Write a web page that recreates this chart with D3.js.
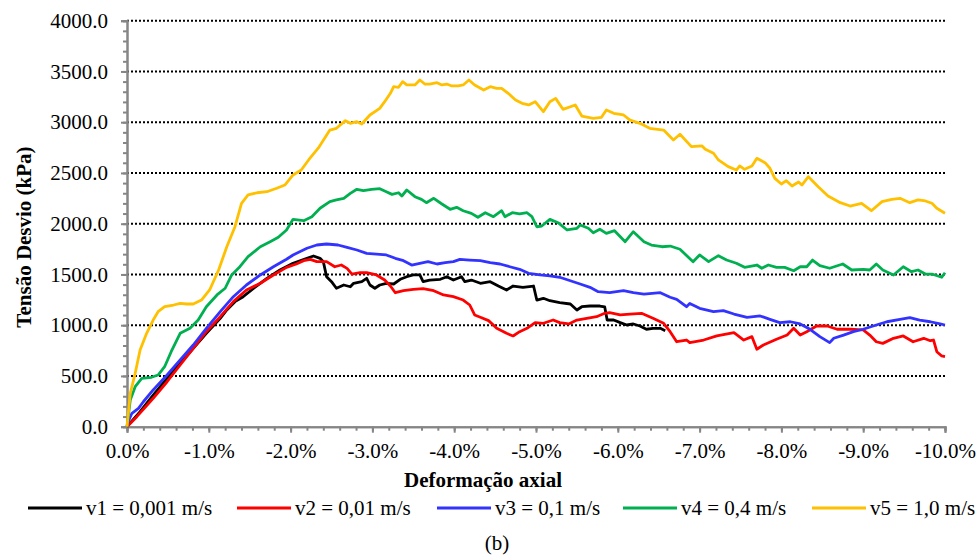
<!DOCTYPE html>
<html><head><meta charset="utf-8">
<script src="https://cdn.jsdelivr.net/npm/d3@7"></script>
<style>
body{margin:0;background:#fff;}
svg{display:block;font-family:"Times New Roman","Liberation Serif",serif;}
</style></head>
<body><svg id="chart" width="979" height="557"></svg>
<script>
// Data: [axial strain (%), deviator stress (kPa)]
const seriesNames = ["v1 = 0,001 m/s","v2 = 0,01 m/s","v3 = 0,1 m/s","v4 = 0,4 m/s","v5 = 1,0 m/s"];
const seriesColors = ["#000000","#ff0000","#3333ff","#00b050","#ffc000"];
const xTicks = [0,-1,-2,-3,-4,-5,-6,-7,-8,-9,-10];
const yTicks = [0,500,1000,1500,2000,2500,3000,3500,4000];

const v1 = [[0,0],[-0.16,148],[-0.32,312],[-0.49,477],[-0.65,625],[-0.81,772],[-0.97,920],[-1.14,1068],[-1.22,1150],[-1.32,1232],[-1.42,1281],[-1.55,1364],[-1.71,1462],[-1.87,1544],[-2.03,1610],[-2.20,1659],[-2.28,1682],[-2.36,1659],[-2.40,1626],[-2.44,1478],[-2.50,1429],[-2.56,1364],[-2.65,1396],[-2.73,1379],[-2.77,1413],[-2.87,1429],[-2.93,1462],[-2.97,1396],[-3.03,1364],[-3.09,1396],[-3.17,1413],[-3.26,1406],[-3.34,1452],[-3.42,1478],[-3.50,1495],[-3.58,1495],[-3.62,1429],[-3.70,1445],[-3.83,1452],[-3.91,1478],[-3.99,1445],[-4.09,1478],[-4.13,1429],[-4.21,1445],[-4.32,1413],[-4.44,1429],[-4.54,1386],[-4.64,1347],[-4.72,1386],[-4.84,1373],[-4.97,1386],[-5.01,1248],[-5.09,1265],[-5.17,1241],[-5.29,1222],[-5.42,1209],[-5.50,1150],[-5.56,1182],[-5.66,1189],[-5.78,1189],[-5.84,1180],[-5.87,1051],[-5.95,1051],[-6.03,1025],[-6.11,1002],[-6.19,1012],[-6.27,992],[-6.35,960],[-6.43,969],[-6.52,969],[-6.58,946]];

const v2 = [[0,0],[-0.12,99],[-0.32,280],[-0.49,443],[-0.65,608],[-0.81,772],[-0.97,936],[-1.14,1084],[-1.30,1232],[-1.46,1347],[-1.63,1413],[-1.79,1495],[-1.95,1570],[-2.07,1603],[-2.16,1636],[-2.24,1649],[-2.32,1626],[-2.44,1626],[-2.54,1576],[-2.62,1593],[-2.69,1560],[-2.75,1504],[-2.85,1517],[-2.93,1517],[-3.05,1495],[-3.15,1445],[-3.22,1386],[-3.28,1320],[-3.38,1340],[-3.50,1353],[-3.62,1360],[-3.75,1340],[-3.87,1298],[-3.99,1281],[-4.11,1248],[-4.19,1199],[-4.25,1101],[-4.32,1078],[-4.42,1045],[-4.52,969],[-4.64,920],[-4.72,894],[-4.80,936],[-4.89,969],[-4.99,1025],[-5.09,1019],[-5.21,1051],[-5.29,1025],[-5.40,1012],[-5.50,1051],[-5.62,1068],[-5.74,1084],[-5.84,1117],[-5.90,1123],[-6.03,1101],[-6.15,1110],[-6.29,1117],[-6.43,1068],[-6.56,1019],[-6.64,936],[-6.72,837],[-6.84,854],[-6.88,828],[-7.05,854],[-7.21,894],[-7.42,926],[-7.54,854],[-7.64,887],[-7.70,763],[-7.78,805],[-7.94,861],[-8.07,903],[-8.15,969],[-8.23,903],[-8.31,936],[-8.43,992],[-8.56,992],[-8.68,960],[-8.84,960],[-9.00,953],[-9.08,903],[-9.16,837],[-9.24,821],[-9.37,871],[-9.49,894],[-9.61,837],[-9.74,871],[-9.82,847],[-9.86,854],[-9.90,739],[-9.96,697],[-10.0,690]];

const v3 = [[0,0],[-0.02,60],[-0.06,132],[-0.14,181],[-0.20,246],[-0.32,362],[-0.49,509],[-0.65,657],[-0.81,805],[-0.97,969],[-1.14,1133],[-1.30,1281],[-1.46,1396],[-1.63,1495],[-1.79,1576],[-1.95,1650],[-2.03,1692],[-2.20,1758],[-2.32,1790],[-2.44,1800],[-2.58,1790],[-2.69,1767],[-2.81,1741],[-2.93,1708],[-3.05,1701],[-3.17,1692],[-3.28,1659],[-3.38,1636],[-3.48,1593],[-3.58,1610],[-3.68,1626],[-3.79,1603],[-3.89,1616],[-3.99,1626],[-4.07,1649],[-4.19,1642],[-4.32,1636],[-4.44,1616],[-4.56,1603],[-4.68,1576],[-4.80,1551],[-4.91,1511],[-5.05,1495],[-5.17,1485],[-5.29,1472],[-5.42,1438],[-5.54,1406],[-5.66,1373],[-5.76,1330],[-5.90,1320],[-6.07,1340],[-6.19,1320],[-6.32,1307],[-6.52,1320],[-6.64,1275],[-6.72,1255],[-6.84,1182],[-6.88,1215],[-7.00,1166],[-7.17,1133],[-7.29,1143],[-7.42,1110],[-7.58,1078],[-7.74,1091],[-7.86,1058],[-7.98,1025],[-8.11,1034],[-8.23,1012],[-8.35,960],[-8.47,887],[-8.59,828],[-8.64,871],[-8.76,903],[-8.88,936],[-9.00,960],[-9.16,1002],[-9.29,1034],[-9.45,1058],[-9.57,1074],[-9.69,1051],[-9.82,1034],[-9.94,1012],[-10.0,1002]];

const v4 = [[0,0],[-0.04,263],[-0.10,394],[-0.18,477],[-0.30,487],[-0.38,509],[-0.46,591],[-0.54,739],[-0.65,920],[-0.77,969],[-0.87,1051],[-0.97,1182],[-1.10,1298],[-1.20,1364],[-1.28,1495],[-1.38,1576],[-1.48,1675],[-1.63,1773],[-1.75,1823],[-1.85,1866],[-1.95,1938],[-2.03,2043],[-2.16,2030],[-2.26,2069],[-2.36,2152],[-2.48,2217],[-2.56,2234],[-2.65,2250],[-2.73,2299],[-2.81,2339],[-2.89,2325],[-2.99,2339],[-3.09,2345],[-3.17,2315],[-3.24,2289],[-3.32,2305],[-3.36,2273],[-3.42,2332],[-3.52,2266],[-3.60,2240],[-3.66,2207],[-3.75,2250],[-3.85,2194],[-3.95,2142],[-4.03,2161],[-4.11,2128],[-4.21,2102],[-4.29,2063],[-4.38,2108],[-4.48,2069],[-4.58,2128],[-4.62,2069],[-4.71,2108],[-4.80,2096],[-4.89,2108],[-4.95,2069],[-5.01,1970],[-5.07,1977],[-5.17,2043],[-5.27,2010],[-5.38,1938],[-5.50,1955],[-5.54,1987],[-5.64,1955],[-5.70,1911],[-5.78,1945],[-5.86,1905],[-5.96,1931],[-6.09,1823],[-6.19,1921],[-6.32,1823],[-6.41,1790],[-6.54,1773],[-6.64,1780],[-6.76,1748],[-6.92,1626],[-7.00,1692],[-7.11,1626],[-7.23,1685],[-7.33,1642],[-7.45,1610],[-7.55,1570],[-7.70,1593],[-7.76,1561],[-7.84,1593],[-7.94,1570],[-8.04,1570],[-8.15,1537],[-8.23,1576],[-8.31,1576],[-8.38,1642],[-8.47,1586],[-8.59,1561],[-8.75,1603],[-8.86,1544],[-9.00,1551],[-9.08,1544],[-9.16,1603],[-9.24,1544],[-9.37,1495],[-9.49,1576],[-9.59,1527],[-9.67,1544],[-9.76,1504],[-9.84,1504],[-9.96,1472],[-10.0,1517]];

const v5 = [[0,0],[-0.04,329],[-0.10,526],[-0.16,756],[-0.24,920],[-0.32,1051],[-0.38,1133],[-0.46,1182],[-0.57,1199],[-0.65,1216],[-0.73,1209],[-0.81,1209],[-0.91,1248],[-1.01,1347],[-1.12,1544],[-1.22,1773],[-1.32,1970],[-1.40,2201],[-1.48,2283],[-1.59,2305],[-1.71,2315],[-1.83,2349],[-1.93,2381],[-2.03,2480],[-2.13,2529],[-2.22,2628],[-2.34,2746],[-2.48,2922],[-2.56,2940],[-2.67,3015],[-2.73,2989],[-2.81,3005],[-2.87,2982],[-2.97,3071],[-3.09,3137],[-3.15,3202],[-3.22,3285],[-3.26,3350],[-3.32,3344],[-3.37,3399],[-3.42,3367],[-3.52,3367],[-3.58,3416],[-3.64,3376],[-3.70,3376],[-3.79,3389],[-3.85,3367],[-3.91,3376],[-3.97,3357],[-4.05,3357],[-4.11,3367],[-4.18,3416],[-4.25,3367],[-4.36,3317],[-4.44,3350],[-4.52,3334],[-4.58,3334],[-4.66,3285],[-4.75,3219],[-4.83,3186],[-4.91,3170],[-4.99,3202],[-5.09,3104],[-5.17,3202],[-5.24,3235],[-5.33,3127],[-5.48,3170],[-5.56,3061],[-5.70,3038],[-5.80,3048],[-5.86,3120],[-5.95,3088],[-6.07,3071],[-6.15,3021],[-6.27,2989],[-6.39,2940],[-6.56,2923],[-6.68,2825],[-6.76,2881],[-6.90,2759],[-7.03,2766],[-7.07,2733],[-7.17,2694],[-7.23,2628],[-7.35,2562],[-7.45,2529],[-7.49,2569],[-7.55,2536],[-7.64,2569],[-7.70,2644],[-7.80,2601],[-7.86,2546],[-7.92,2447],[-8.00,2391],[-8.06,2424],[-8.13,2371],[-8.21,2411],[-8.25,2381],[-8.33,2463],[-8.45,2365],[-8.57,2273],[-8.72,2207],[-8.84,2174],[-8.98,2201],[-9.10,2128],[-9.23,2217],[-9.35,2240],[-9.45,2250],[-9.57,2207],[-9.67,2234],[-9.76,2224],[-9.84,2201],[-9.90,2152],[-10.0,2103]];

const allSeries = [v1,v2,v3,v4,v5];

const svg = d3.select("#chart");
const pLeft = 127, pRight = 945, pTop = 20.7, pBottom = 426.7;
const x = d3.scaleLinear().domain([0,-10]).range([pLeft,pRight]);
const y = d3.scaleLinear().domain([0,4000]).range([pBottom,pTop]);
const axisColor = "#868686";
const fontSize = 21;
const hy = s => s.replace("\u2212","-");

// gridlines
svg.append("g").selectAll("line").data(yTicks.filter(d=>d>0)).join("line")
  .attr("x1",pLeft).attr("x2",pRight).attr("y1",d=>y(d)).attr("y2",d=>y(d))
  .attr("stroke","#000").attr("stroke-width",2).attr("stroke-dasharray","2,2");

// minor + major ticks / axes
const yMinor = d3.range(0,4001,100);
const xMinor = d3.range(0,-10.001,-0.2);
const gy = svg.append("g").attr("transform",`translate(${pLeft},0)`)
  .call(d3.axisLeft(y).tickValues(yMinor).tickSize(4).tickFormat(""));
const gx = svg.append("g").attr("transform",`translate(0,${pBottom})`)
  .call(d3.axisBottom(x).tickValues(xMinor).tickSize(4).tickFormat(""));
const gy2 = svg.append("g").attr("transform",`translate(${pLeft},0)`)
  .call(d3.axisLeft(y).tickValues(yTicks).tickSize(6).tickPadding(13).tickFormat(d3.format(".1f")));
const gx2 = svg.append("g").attr("transform",`translate(0,${pBottom})`)
  .call(d3.axisBottom(x).tickValues(xTicks).tickSize(6).tickPadding(10).tickFormat(d=>hy(d3.format(".1f")(d))+"%"));
[gy,gx,gy2,gx2].forEach(g=>{
  g.selectAll("path,line").attr("stroke",axisColor).attr("stroke-width",2);
  g.selectAll("text").attr("fill","#000").style("font-size",fontSize+"px").style("font-family",'"Times New Roman","Liberation Serif",serif');
});

// lines
const line = d3.line().x(d=>x(d[0])).y(d=>y(d[1]));
svg.append("g").selectAll("path").data(allSeries).join("path")
  .attr("d",line).attr("fill","none")
  .attr("stroke",(d,i)=>seriesColors[i]).attr("stroke-width",2.8)
  .attr("stroke-linejoin","round");

// axis titles
svg.append("text").attr("x",483).attr("y",487).attr("text-anchor","middle")
  .style("font-size",fontSize+"px").style("font-weight","bold").text("Deformação axial");
svg.append("text").attr("transform","translate(31,237) rotate(-90)").attr("text-anchor","middle")
  .style("font-size",fontSize+"px").style("font-weight","bold").text("Tensão Desvio (kPa)");

// legend
const legendX = [28,237,437,623,812];
const lg = svg.append("g").selectAll("g").data(seriesNames).join("g")
  .attr("transform",(d,i)=>`translate(${legendX[i]},508)`);
lg.append("line").attr("x1",0).attr("x2",54).attr("y1",0).attr("y2",0)
  .attr("stroke",(d,i)=>seriesColors[i]).attr("stroke-width",2.8);
lg.append("text").attr("x",58).attr("y",7).style("font-size",fontSize+"px").text(d=>d);

svg.append("text").attr("x",497).attr("y",550).attr("text-anchor","middle")
  .style("font-size",fontSize+"px").text("(b)");
</script></body></html>
